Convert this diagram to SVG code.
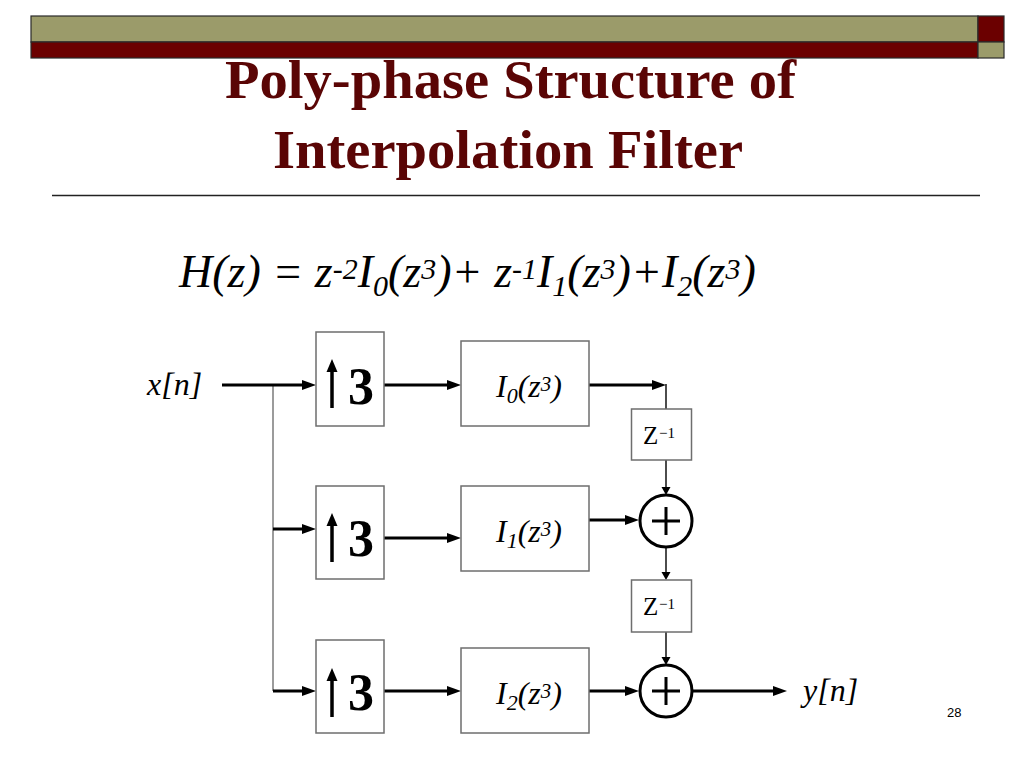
<svg xmlns="http://www.w3.org/2000/svg" width="1024" height="768" viewBox="0 0 1024 768">
<defs>
<style>
.olive{fill:#9b9b6a;stroke:#2a2a2a;stroke-width:1.2}
.red{fill:#6b0000;stroke:#2a2a2a;stroke-width:1.2}
.title{font-family:"Liberation Serif","Times New Roman",serif;font-weight:bold;font-size:55px;fill:#5a0505}
.math{font-family:"Liberation Serif","Times New Roman",serif;font-style:italic;fill:#000}
.rm{font-family:"Liberation Serif","Times New Roman",serif;fill:#000}
.box{fill:#fff;stroke:#6e6e6e;stroke-width:1.5}
.thick{fill:none;stroke:#000;stroke-width:3}
.thin{fill:none;stroke:#000;stroke-width:1.4}
.gray{fill:none;stroke:#7a7a7a;stroke-width:1.5}
.sum{fill:#fff;stroke:#000;stroke-width:3}
</style>
<marker id="ah" markerUnits="userSpaceOnUse" viewBox="0 0 14 10" markerWidth="14" markerHeight="10" refX="8" refY="5" orient="auto">
<path d="M0,0 L14,5 L0,10 z" fill="#000"/>
</marker>
<marker id="ahs" markerUnits="userSpaceOnUse" viewBox="0 0 8 10" markerWidth="8" markerHeight="10" refX="3" refY="5" orient="auto">
<path d="M0,0.5 L8,5 L0,9.5 z" fill="#000"/>
</marker>
</defs>
<rect width="1024" height="768" fill="#fff"/>

<g id="header">
<rect class="olive" x="31" y="16" width="947" height="26"/>
<rect class="red" x="31" y="42" width="947" height="16"/>
<rect class="red" x="978" y="16" width="26" height="26"/>
<rect class="olive" x="978" y="42" width="26" height="16"/>
<text class="title" x="225" y="98" textLength="571" lengthAdjust="spacingAndGlyphs">Poly-phase Structure of</text>
<text class="title" x="273" y="168" textLength="470" lengthAdjust="spacingAndGlyphs">Interpolation Filter</text>
<line x1="52" y1="195.5" x2="980" y2="195.5" stroke="#222" stroke-width="1.3"/>
</g>

<g id="formula">
<text class="math" x="179" y="287" font-size="46">H(z) = z<tspan y="279" font-size="30">-2</tspan><tspan y="287">I</tspan><tspan y="296" font-size="30">0</tspan><tspan y="287">(z</tspan><tspan y="279" font-size="30">3</tspan><tspan y="287">)+ z</tspan><tspan y="279" font-size="30">-1</tspan><tspan y="287">I</tspan><tspan y="296" font-size="30">1</tspan><tspan y="287">(z</tspan><tspan y="279" font-size="30">3</tspan><tspan y="287">)+I</tspan><tspan y="296" font-size="30">2</tspan><tspan y="287">(z</tspan><tspan y="279" font-size="30">3</tspan><tspan y="287">)</tspan></text>
</g>

<g id="connectors">
<line class="gray" x1="273" y1="385" x2="273" y2="691"/>
<line class="thick" x1="222" y1="385" x2="310" y2="385" marker-end="url(#ah)"/>
<line class="thick" x1="384" y1="385" x2="455" y2="385" marker-end="url(#ah)"/>
<line class="thick" x1="589" y1="385" x2="660" y2="385" marker-end="url(#ah)"/>
<line class="thin" x1="666" y1="384" x2="666" y2="409"/>
<line class="thin" x1="666" y1="460" x2="666" y2="490" marker-end="url(#ahs)"/>
<line class="thick" x1="273" y1="529" x2="310" y2="529" marker-end="url(#ah)"/>
<line class="thick" x1="384" y1="538" x2="455" y2="538" marker-end="url(#ah)"/>
<line class="thick" x1="589" y1="520" x2="633" y2="520" marker-end="url(#ah)"/>
<line class="thin" x1="666" y1="547" x2="666" y2="575" marker-end="url(#ahs)"/>
<line class="thin" x1="666" y1="632" x2="666" y2="660" marker-end="url(#ahs)"/>
<line class="thick" x1="273" y1="691" x2="310" y2="691" marker-end="url(#ah)"/>
<line class="thick" x1="384" y1="691" x2="455" y2="691" marker-end="url(#ah)"/>
<line class="thick" x1="589" y1="691" x2="633" y2="691" marker-end="url(#ah)"/>
<line class="thick" x1="692" y1="691" x2="781" y2="691" marker-end="url(#ah)"/>
</g>

<g id="input">
<text class="math" x="147" y="395" font-size="32">x[n]</text>
</g>
<g id="output">
<text class="math" x="803" y="701" font-size="32">y[n]</text>
</g>

<g id="up1">
<rect class="box" x="316" y="332" width="68" height="94"/>
<line x1="332" y1="408" x2="332" y2="370" stroke="#000" stroke-width="3.5"/>
<path d="M326.5,372 L332,359 L337.5,372 z" fill="#000"/>
<text class="rm" x="348" y="404" font-size="52" font-weight="bold">3</text>
</g>
<g id="up2">
<rect class="box" x="316" y="486" width="68" height="93"/>
<line x1="332" y1="562" x2="332" y2="524" stroke="#000" stroke-width="3.5"/>
<path d="M326.5,526 L332,513 L337.5,526 z" fill="#000"/>
<text class="rm" x="348" y="556" font-size="52" font-weight="bold">3</text>
</g>
<g id="up3">
<rect class="box" x="316" y="640" width="68" height="93"/>
<line x1="332" y1="717" x2="332" y2="679" stroke="#000" stroke-width="3.5"/>
<path d="M326.5,681 L332,668 L337.5,681 z" fill="#000"/>
<text class="rm" x="348" y="710" font-size="52" font-weight="bold">3</text>
</g>

<g id="I0">
<rect class="box" x="461" y="341" width="128" height="85"/>
<text class="math" x="496" y="397" font-size="32">I<tspan y="403" font-size="22">0</tspan><tspan y="397">(z</tspan><tspan y="391" font-size="21">3</tspan><tspan y="397">)</tspan></text>
</g>
<g id="I1">
<rect class="box" x="461" y="486" width="128" height="85"/>
<text class="math" x="496" y="542" font-size="32">I<tspan y="548" font-size="22">1</tspan><tspan y="542">(z</tspan><tspan y="536" font-size="21">3</tspan><tspan y="542">)</tspan></text>
</g>
<g id="I2">
<rect class="box" x="461" y="648" width="128" height="85"/>
<text class="math" x="496" y="704" font-size="32">I<tspan y="710" font-size="22">2</tspan><tspan y="704">(z</tspan><tspan y="698" font-size="21">3</tspan><tspan y="704">)</tspan></text>
</g>

<g id="delay1">
<rect class="box" x="631.5" y="409" width="60" height="51"/>
<text class="rm" x="643" y="444" font-size="25">Z<tspan x="659" y="438" font-size="15">−1</tspan></text>
</g>
<g id="delay2">
<rect class="box" x="631.5" y="580" width="60" height="52"/>
<text class="rm" x="643" y="615" font-size="25">Z<tspan x="659" y="609" font-size="15">−1</tspan></text>
</g>

<g id="sum1">
<circle class="sum" cx="666" cy="521" r="26"/>
<path d="M652,521 H680 M666,507 V535" stroke="#000" stroke-width="3" fill="none"/>
</g>
<g id="sum2">
<circle class="sum" cx="666" cy="691" r="26"/>
<path d="M652,691 H680 M666,677 V705" stroke="#000" stroke-width="3" fill="none"/>
</g>

<text x="947" y="717" font-family="Liberation Sans, Arial, sans-serif" font-size="13" fill="#000">28</text>
</svg>
